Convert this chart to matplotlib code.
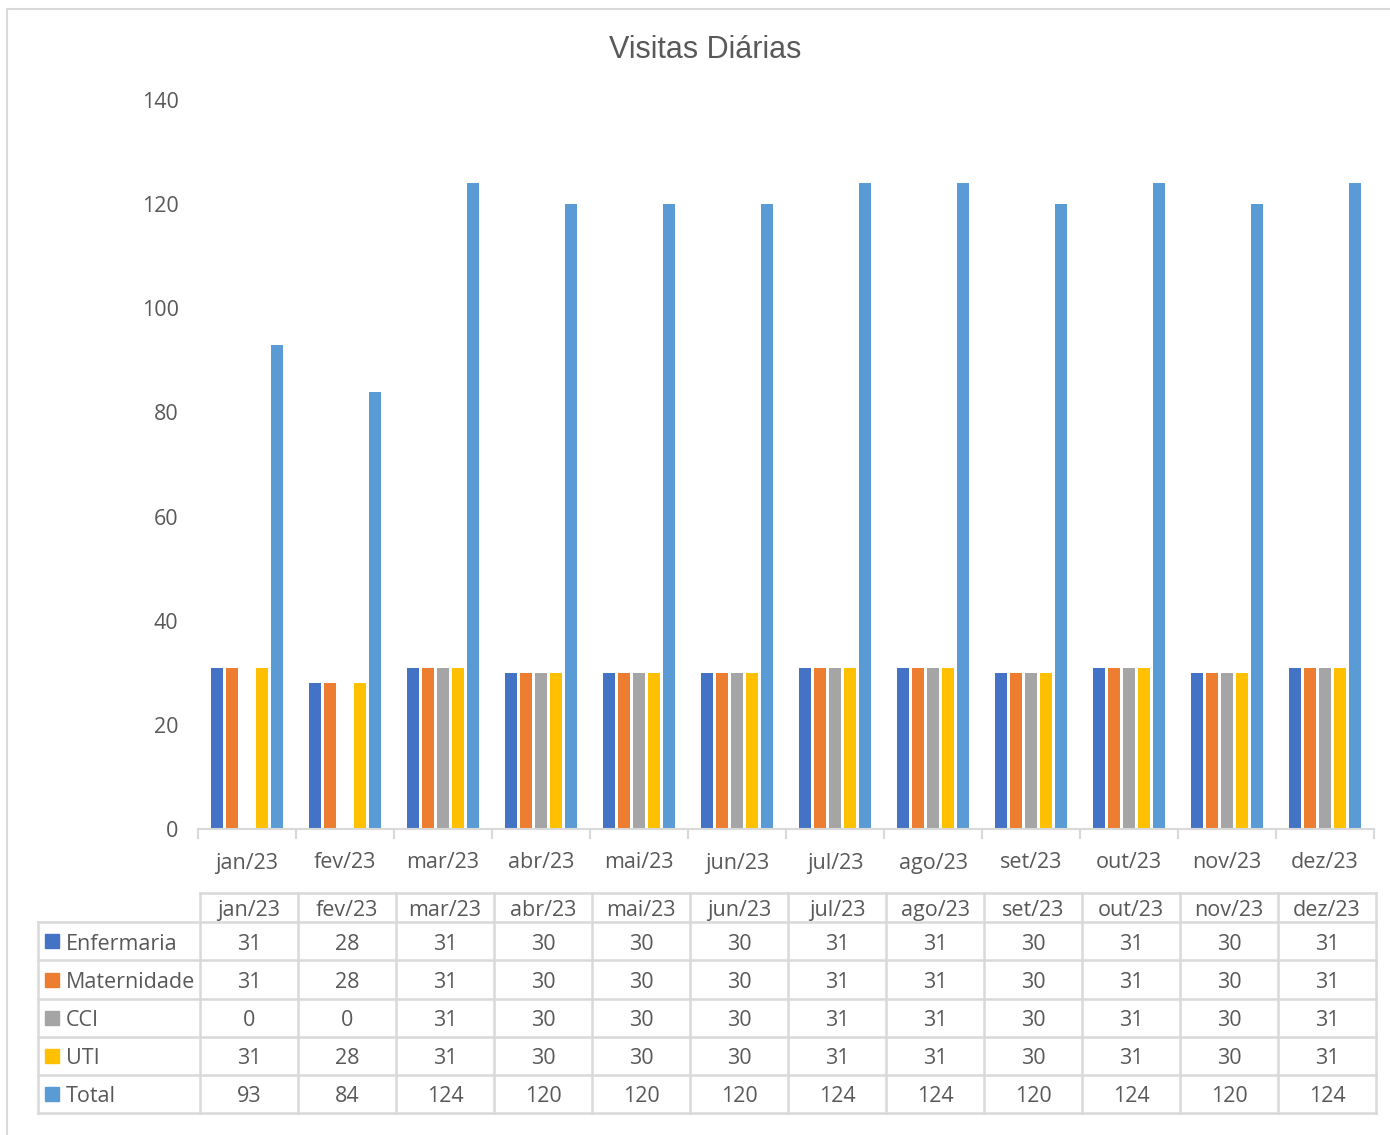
import matplotlib.pyplot as plt
import numpy as np

# Data
months = ['jan/23', 'fev/23', 'mar/23', 'abr/23', 'mai/23', 'jun/23',
          'jul/23', 'ago/23', 'set/23', 'out/23', 'nov/23', 'dez/23']
series_names = ['Enfermaria', 'Maternidade', 'CCI', 'UTI', 'Total']
enfermaria = [31, 28, 31, 30, 30, 30, 31, 31, 30, 31, 30, 31]
maternidade = [31, 28, 31, 30, 30, 30, 31, 31, 30, 31, 30, 31]
cci = [0, 0, 31, 30, 30, 30, 31, 31, 30, 31, 30, 31]
uti = [31, 28, 31, 30, 30, 30, 31, 31, 30, 31, 30, 31]
total = [93, 84, 124, 120, 120, 120, 124, 124, 120, 124, 120, 124]
colors = ['#4472C4', '#ED7D31', '#A5A5A5', '#FFC000', '#5B9BD5']

W, H = 1390, 1135
text_color = '#595959'
grid_color = '#D9D9D9'
font = 'Open Sans'
fs = 15.5

fig = plt.figure(figsize=(W / 100, H / 100), dpi=100)

# Main bar axes (pixel layout from the reference)
x0, x1 = 198, 1374
y_top, y_bot = 100, 829
ax = fig.add_axes([x0 / W, 1 - y_bot / H, (x1 - x0) / W, (y_bot - y_top) / H])

all_series = [enfermaria, maternidade, cci, uti, total]
n = len(months)
x = np.arange(n)
bar_w = 12 / 98
step = 15 / 98
for k, vals in enumerate(all_series):
    ax.bar(x + (k - 2) * step, vals, width=bar_w, color=colors[k], zorder=2)

ax.set_xlim(-0.5, n - 0.5)
ax.set_ylim(0, 140)
ax.set_yticks(range(0, 141, 20))
ax.set_yticklabels([str(v) for v in range(0, 141, 20)], fontsize=fs,
                   color=text_color, family=font)
for s in ['top', 'right', 'left']:
    ax.spines[s].set_visible(False)
ax.spines['bottom'].set_color(grid_color)
ax.spines['bottom'].set_linewidth(1.5)
ax.tick_params(axis='y', length=0, pad=14)
ax.set_xticks(np.arange(-0.5, n, 1.0))
ax.set_xticklabels([])
ax.tick_params(axis='x', length=7, width=1.5, color=grid_color)

# Overlay axes in pixel coordinates for title, labels, data table and border
ov = fig.add_axes([0, 0, 1, 1], zorder=-1)
ov.set_xlim(0, W)
ov.set_ylim(H, 0)
ov.axis('off')

ov.text(705, 50, 'Visitas Diárias', ha='center', va='center', fontsize=22,
        color=text_color, family='Liberation Sans')

col_x = [200 + 98 * i for i in range(n + 1)]
for i, m in enumerate(months):
    ov.text((col_x[i] + col_x[i + 1]) / 2 - 2, 863, m, ha='center', va='center',
            fontsize=fs, color=text_color, family=font)

# chart border (top and left only visible)
ov.plot([7, 7, W], [H, 9, 9], color='#D9D9D9', lw=1.5)

row_y = [893, 922, 960, 999, 1037, 1075, 1113]
label_x0 = 38
lw = 1.8
dy = 3  # text baseline nudge

# table grid
ov.plot([col_x[0], col_x[-1]], [row_y[0], row_y[0]], color=grid_color, lw=lw)
for r in range(1, len(row_y)):
    ov.plot([label_x0, col_x[-1]], [row_y[r], row_y[r]], color=grid_color, lw=lw)
for c in col_x:
    ov.plot([c, c], [row_y[0], row_y[-1]], color=grid_color, lw=lw)
ov.plot([label_x0, label_x0], [row_y[1], row_y[-1]], color=grid_color, lw=lw)

for i, m in enumerate(months):
    ov.text((col_x[i] + col_x[i + 1]) / 2, (row_y[0] + row_y[1]) / 2 + dy, m,
            ha='center', va='center', fontsize=fs, color=text_color, family=font)

for r, (name, vals) in enumerate(zip(series_names, all_series)):
    yc = (row_y[r + 1] + row_y[r + 2]) / 2
    ov.add_patch(plt.Rectangle((45, yc - 7), 14, 14, color=colors[r]))
    ov.text(66, yc + dy, name, ha='left', va='center', fontsize=fs,
            color=text_color, family=font)
    for i, v in enumerate(vals):
        ov.text((col_x[i] + col_x[i + 1]) / 2, yc + dy, str(v), ha='center',
                va='center', fontsize=fs, color=text_color, family=font)

fig.savefig('out.png', dpi=100)
